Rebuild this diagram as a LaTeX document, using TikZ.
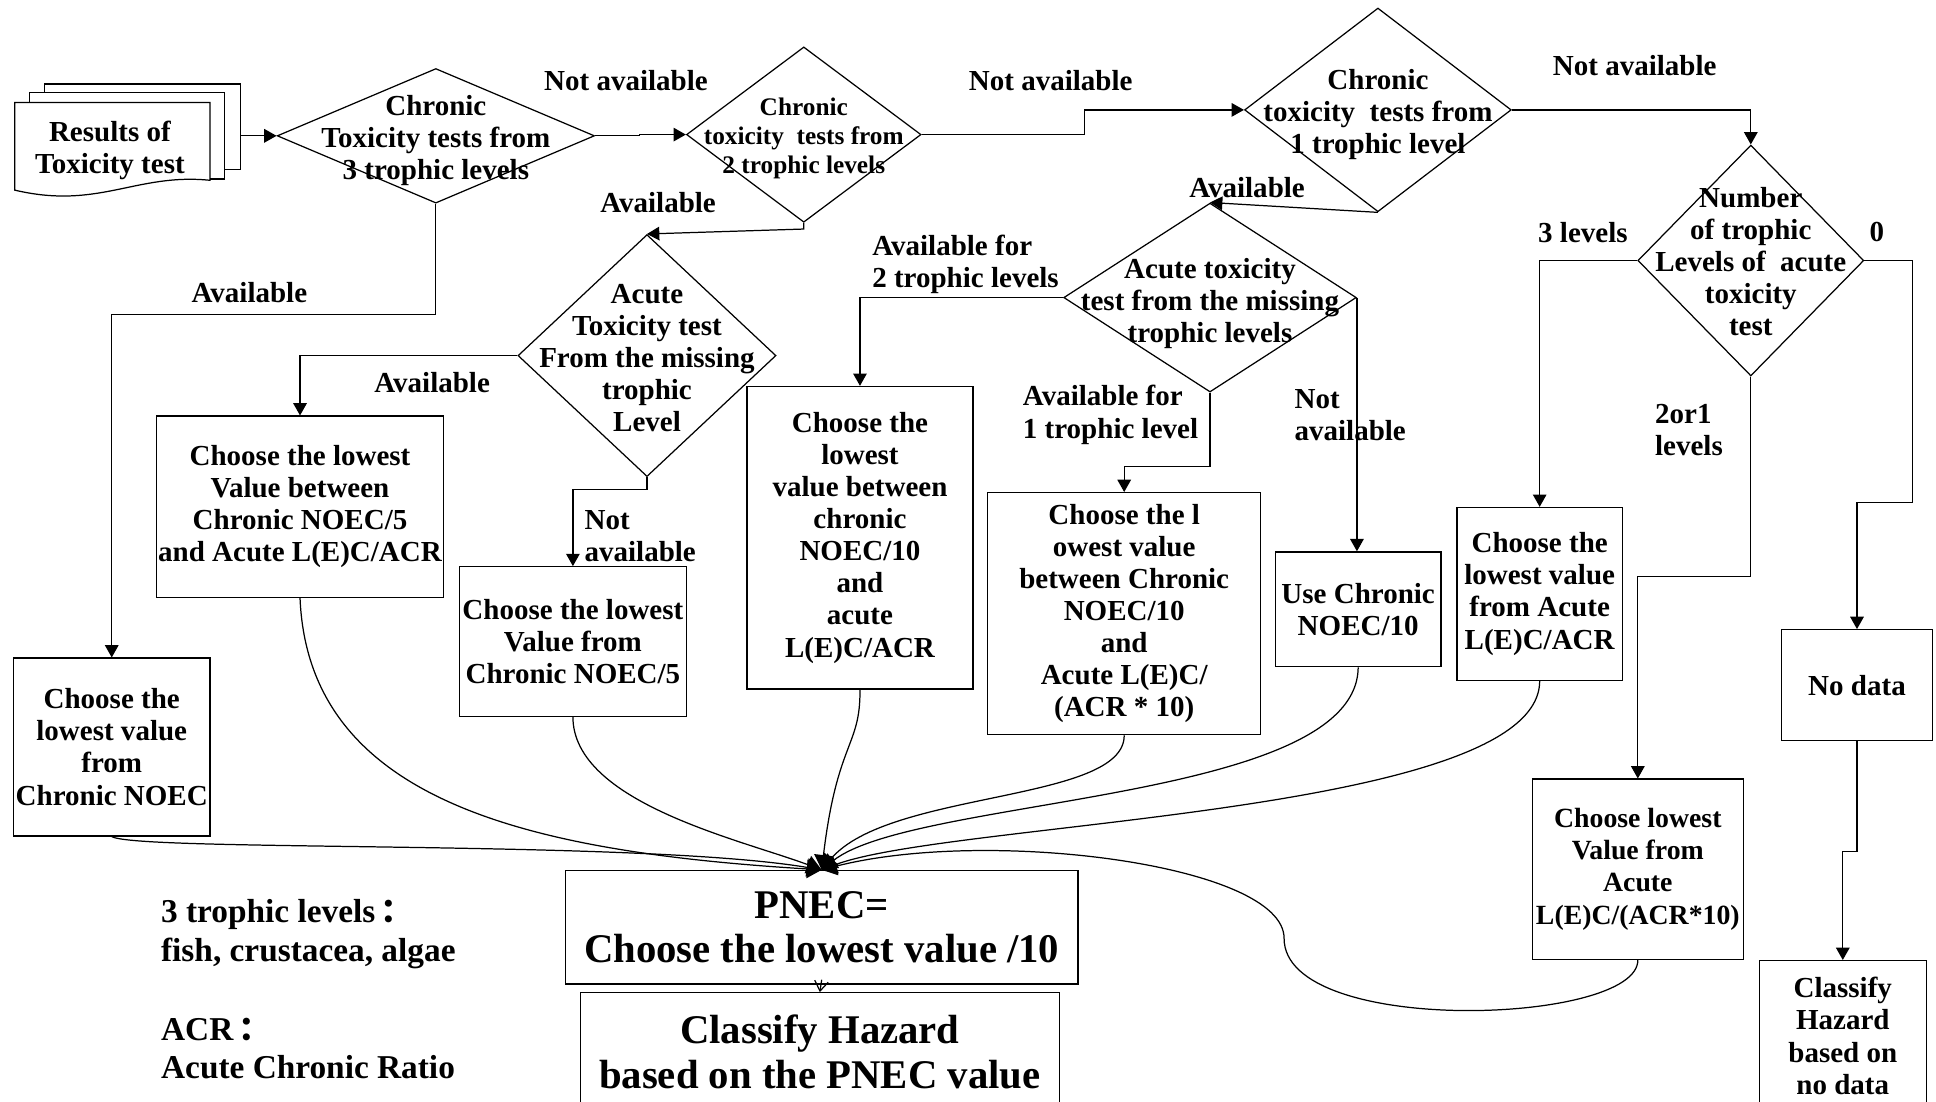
\documentclass[tikz,border=0pt]{standalone}
\usepackage{fontspec}
\setmainfont{Liberation Serif}
\newfontfamily\cjk{Noto Sans CJK SC}
\usetikzlibrary{shapes.geometric,arrows.meta}
\begin{document}
\begin{tikzpicture}[x=1pt,y=-1pt,line width=1pt,
  font=\fontsize{23.5}{26}\selectfont\bfseries,
  box/.style={draw,rectangle,align=center,inner sep=0pt},
  dec/.style={draw,diamond,inner sep=0pt},
  lbl/.style={align=left,inner sep=0pt},
  flow/.style={-{Triangle[length=10pt,width=11pt]}},
  merge/.style={-{Triangle[length=12pt,width=15pt]}},
  big/.style={font=\fontsize{33}{36}\selectfont\bfseries}]
\useasboundingbox (0,0) rectangle (1568,892);
% stack of results
\draw[fill=white] (36,68) rectangle (195,137);
\draw[fill=white] (24,75) rectangle (182,145);
\draw[fill=white] (12,83) -- (170,83) -- (170,146) .. controls (110,140) and (80,170) .. (12,154) -- cycle;
\node[align=center,inner sep=0pt] (res) at (89,122) {Results of\\Toxicity test};
\coordinate (resout) at (195,110);
% decisions
\node[dec,minimum width=257pt,minimum height=109pt,
  label={[align=center,yshift=-4pt]center:Chronic\\Toxicity tests from\\3 trophic levels}] (d1) at (353,110) {};
\node[dec,minimum width=190pt,minimum height=142pt,
  label={[align=center,yshift=-3pt,font=\fontsize{20.5}{23.5}\selectfont\bfseries]center:Chronic\\toxicity\ \ tests from\\2 trophic levels}] (d2) at (651,109) {};
\node[dec,minimum width=216pt,minimum height=165pt,
  label={[align=center,yshift=-4pt]center:Chronic\\toxicity\ \ tests from\\1 trophic level}] (d3) at (1116,89) {};
\node[dec,minimum width=183pt,minimum height=187pt,
  label={[align=center,yshift=-1pt]center:Number\\of trophic\\Levels of\ \ acute\\toxicity\\test}] (d4) at (1418,211) {};
\node[dec,minimum width=237pt,minimum height=153pt,
  label={[align=center,yshift=-5pt]center:Acute toxicity\\test from the missing\\trophic levels}] (d5) at (980,241) {};
\node[dec,minimum width=209pt,minimum height=196pt,
  label={[align=center,yshift=-2pt]center:Acute\\Toxicity test\\From the missing\\trophic\\Level}] (d6) at (524,288) {};
% boxes
\node[box,minimum width=159pt,minimum height=144pt] (l1) at (90.5,605) {Choose the\\lowest value\\from\\Chronic NOEC};
\node[box,minimum width=232pt,minimum height=147pt] (l2) at (243,410.5) {Choose the lowest\\Value between\\Chronic NOEC/5\\and Acute L(E)C/ACR};
\node[box,minimum width=184pt,minimum height=121pt] (l3) at (464,519.5) {Choose the lowest\\Value from\\Chronic NOEC/5};
\node[box,minimum width=183pt,minimum height=245pt] (m1) at (696.5,435.5) {Choose the\\lowest\\value between\\chronic\\NOEC/10\\and\\acute\\L(E)C/ACR};
\node[box,minimum width=221pt,minimum height=196pt] (m2) at (910.5,497) {Choose the l\\owest value\\between Chronic\\NOEC/10\\and\\Acute L(E)C/\\(ACR * 10)};
\node[box,minimum width=134pt,minimum height=93pt] (m3) at (1100,493.5) {Use Chronic\\NOEC/10};
\node[box,minimum width=134pt,minimum height=140pt] (r1) at (1247,481) {Choose the\\lowest value\\from Acute\\L(E)C/ACR};
\node[box,minimum width=171pt,minimum height=146pt,font=\fontsize{22.5}{26}\selectfont\bfseries] (r2) at (1326.5,704) {Choose lowest\\Value from\\Acute\\L(E)C/(ACR*10)};
\node[box,minimum width=122pt,minimum height=90pt] (nodata) at (1504,555) {No data};
\node[box,minimum width=135pt,minimum height=122pt] (cls2) at (1492.5,839) {Classify\\Hazard\\based on\\no data};
\node[box,big,minimum width=415pt,minimum height=92pt] (pnec) at (665.5,751) {PNEC=\\Choose the lowest value /10};
\node[box,big,minimum width=388pt,minimum height=96pt] (cls) at (664,852) {Classify Hazard\\based on the PNEC value};
% labels
\node (na1) at (507,65) {Not available};
\node (na2) at (851,65) {Not available};
\node (na3) at (1324,53) {Not available};
\node (av1) at (533,164) {Available};
\node (av2) at (1010,152) {Available};
\node (av3) at (202,237) {Available};
\node (av4) at (350,310) {Available};
\node[lbl,anchor=west] (na4) at (473,434) {Not\\available};
\node[lbl,anchor=west] (av5) at (706,214) {Available for\\2 trophic levels};
\node[lbl,anchor=west] (av6) at (828,336) {Available for\\1 trophic level};
\node[lbl,anchor=west] (na5) at (1048,336) {Not\\available};
\node (lv3) at (1282,188) {3 levels};
\node (lv0) at (1520,188) {0};
\node[lbl,anchor=west] (lv21) at (1340,348) {2or1\\levels};
\node[lbl,anchor=west,font=\fontsize{27}{31}\selectfont\bfseries] (key1) at (130,756.5) {3 trophic levels\,{\cjk ：}\\fish, crustacea, algae};
\node[lbl,anchor=west,font=\fontsize{27}{31}\selectfont\bfseries] (key2) at (130,849) {ACR\,{\cjk ：}\\Acute Chronic Ratio};
% connectors
\draw[flow] (resout) -- (d1.west);
\draw[flow] (d1.east) -- ++(36,0) |- (d2.west);
\draw[flow] (d2.east) -- ++(132,0) |- (d3.west);
\draw[flow] (d3.east) -| (d4.north);
\draw[flow] (d4.west) -| (r1.north);
\draw[flow] (d4.east) -- ++(39,0) -- ++(0,196) -| (nodata.north);
\draw[flow] (d4.south) -- ++(0,162) -| (r2.north);
\draw[flow] (nodata.south) -- ++(0,89) -| (cls2.north);
\draw[flow] (d3.south) -- (d5.north);
\draw[flow] (d5.west) -| (m1.north);
\draw[flow] (d5.south) -- ++(0,60) -| (m2.north);
\draw[flow] (d5.east) -- (d5.east |- m3.north);
\draw[flow] (d2.south) -- ++(0,5) -- (d6.north);
\draw[flow] (d6.west) -| (l2.north);
\draw[flow] (d6.south) -- ++(0,10) -| (l3.north);
\draw[flow] (d1.south) -- ++(0,90) -| (l1.north);
\draw[merge] (l1.south) .. controls (110,690) and (520,680) .. (pnec.north);
\draw[merge] (l2.south) .. controls (250,650) and (430,690) .. (pnec.north);
\draw[merge] (l3.south) .. controls (464,650) and (600,680) .. (pnec.north);
\draw[merge] (m1.south) .. controls (697,605) and (678,600) .. (pnec.north);
\draw[merge] (m2.south) .. controls (911,650) and (720,640) .. (pnec.north);
\draw[merge] (m3.south) .. controls (1099,650) and (740,645) .. (pnec.north);
\draw[merge] (r1.south) .. controls (1247,660) and (770,665) .. (pnec.north);
\draw[merge] (r2.south) .. controls (1327,830) and (1040,840) .. (1040,760) .. controls (1040,700) and (800,670) .. (pnec.north);
\draw[-{Straight Barb[length=8pt,width=11pt]}] ([yshift=4pt]pnec.south) -- (cls.north);
\end{tikzpicture}
\end{document}
